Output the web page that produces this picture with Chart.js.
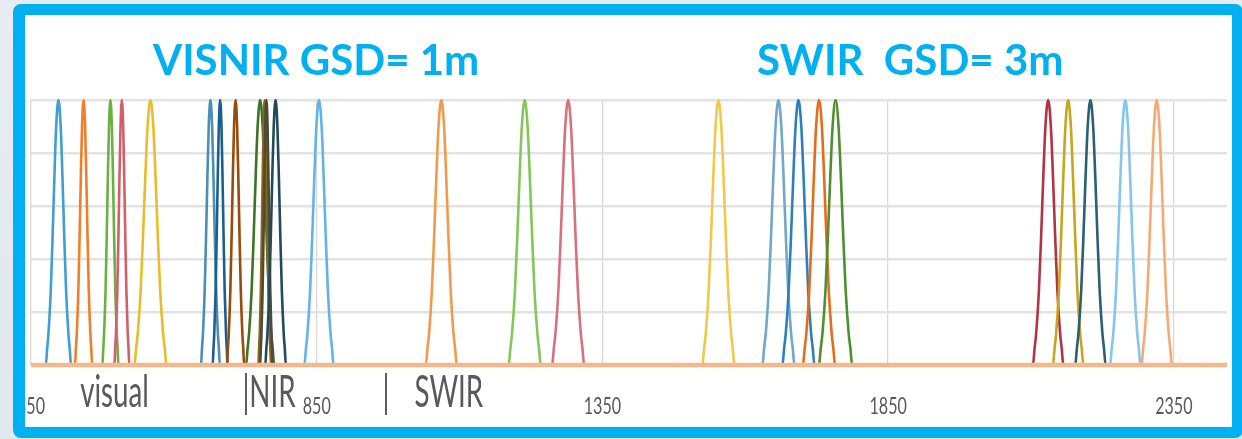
<!DOCTYPE html>
<html>
<head>
<meta charset="utf-8">
<script src="https://cdn.jsdelivr.net/npm/chart.js@4.4.0/dist/chart.umd.min.js"></script>
<style>
  html, body { margin: 0; padding: 0; width: 1242px; height: 439px; overflow: hidden; background: linear-gradient(180deg, #e6ecf1 0%, #e1e8ee 100%); }
  #frame { position: absolute; left: 13px; top: 4px; width: 1230px; height: 434px; box-sizing: border-box;
           border: 11px solid #00b0f0; border-left-width: 12px; border-radius: 8px; background: #fff; overflow: hidden; }
  #chart { position: absolute; left: -25px; top: -15px; }
  .title { position: absolute; font-family: Lato, "Open Sans", sans-serif; font-weight: bold; color: #00b0f0;
           font-size: 42px; line-height: 42px; white-space: pre; }
</style>
</head>
<body>
<div id="frame"><canvas id="chart" width="1242" height="439"></canvas></div>
<div class="title" style="left:153px; top:38px;">VISNIR GSD= 1m</div>
<div class="title" style="left:757px; top:38px;">SWIR  GSD= 3m</div>
<script>
// wavelength axis (nm)
const xMin = 350
const xMax = 2443
const tickValues = [350, 850, 1350, 1850, 2350]

// band centres, base widths (nm) and line colours
const bandCenters = [398, 442, 489, 509, 559,
                     664, 681, 708, 751, 759, 762, 778, 854,
                     1068, 1214, 1290, 1553, 1658, 1693, 1729, 1758,
                     2130, 2165, 2204, 2265, 2320]
const bandWidths = [44, 30, 28, 26, 56,
                    33, 26, 30, 49, 22, 22, 36, 51,
                    54, 56, 56, 56, 56, 56, 56, 58,
                    53, 53, 53, 53, 53]
const bandColors = ['#3f9fd2', '#f07f2a', '#6cb043', '#d2606a', '#e8bd2c',
                    '#4a8fb5', '#1c5f8e', '#9a4a0a', '#3f7325', '#8c6a10', '#4d4a3a', '#24495a', '#62b4e4',
                    '#f29a4c', '#85c65a', '#d6727f', '#efc94c', '#70a8c6', '#2f7fc0', '#e36d1c', '#4f8f2f',
                    '#b23344', '#c9a51c', '#2a6073', '#86c6ec', '#f6aa73']

// shape of one response curve: offset as share of half base width, relative height
const profileOffset = [-1, -0.9, -0.79, -0.61, -0.46, -0.32, -0.18, 0, 0.18, 0.32, 0.46, 0.61, 0.79, 0.9, 1]
const profileLevel = [0, 0.06, 0.12, 0.28, 0.49, 0.71, 0.9, 1, 0.9, 0.71, 0.49, 0.28, 0.12, 0.06, 0]

// labels under the axis
const regionNames = ['visual', '|NIR', '|', 'SWIR']
const regionStart = [436, 720, 965, 1021]

const datasets = bandCenters.map((c, i) => {
    const half = bandWidths[i] / 2
    const pts = [{x: xMin, y: 0}]
    profileOffset.forEach((o, k) => pts.push({x: c + o * half, y: profileLevel[k]}))
    pts.push({x: xMax, y: 0})
    return {
        data: pts,
        borderColor: bandColors[i],
        borderWidth: 2.6,
        pointRadius: 0,
        cubicInterpolationMode: 'monotone',
        fill: false,
        clip: false,
        order: bandCenters.length - i + 1
    }
})

// common zero line, drawn over the feet of every curve
datasets.push({
    data: [{x: xMin, y: 0}, {x: xMax, y: 0}],
    borderColor: '#f4b88c',
    borderWidth: 4.5,
    pointRadius: 0,
    fill: false,
    clip: false,
    order: 0
})

const labelPlugin = {
    id: 'bandLabels',
    afterDraw(chart){
        const ctx = chart.ctx
        const xs = chart.scales.x
        ctx.save()
        ctx.fillStyle = '#595959'
        ctx.textBaseline = 'alphabetic'
        // tick numbers
        ctx.font = '23px Lato, "Open Sans", sans-serif'
        ctx.textAlign = 'center'
        xs.ticks.forEach(t => {
            ctx.save()
            ctx.translate(xs.getPixelForValue(t.value), 414)
            ctx.scale(0.7, 1)
            ctx.fillText(String(t.value), 0, 0)
            ctx.restore()
        })
        // region names
        ctx.font = '44px Lato, "Open Sans", sans-serif'
        ctx.textAlign = 'left'
        regionNames.forEach((name, i) => {
            ctx.save()
            ctx.translate(xs.getPixelForValue(regionStart[i]), 407)
            ctx.scale(0.63, 1)
            ctx.fillText(name, 0, 0)
            ctx.restore()
        })
        ctx.restore()
    }
}

new Chart(document.getElementById('chart'), {
    type: 'line',
    data: { datasets: datasets },
    options: {
        responsive: false,
        animation: false,
        layout: { padding: { left: 31, right: 15, top: 100, bottom: 74 } },
        plugins: { legend: { display: false }, tooltip: { enabled: false } },
        scales: {
            x: {
                type: 'linear',
                min: xMin,
                max: xMax,
                afterBuildTicks: (scale) => { scale.ticks = tickValues.map(v => ({value: v})) },
                ticks: { display: false },
                grid: { color: '#d9d9d9', lineWidth: 1.3, drawTicks: false },
                border: { display: false }
            },
            y: {
                min: 0,
                max: 1,
                ticks: { display: false, stepSize: 0.2 },
                grid: { color: '#e3e3e3', lineWidth: 2.5, drawTicks: false },
                border: { display: false }
            }
        }
    },
    plugins: [labelPlugin]
})
</script>
</body>
</html>
